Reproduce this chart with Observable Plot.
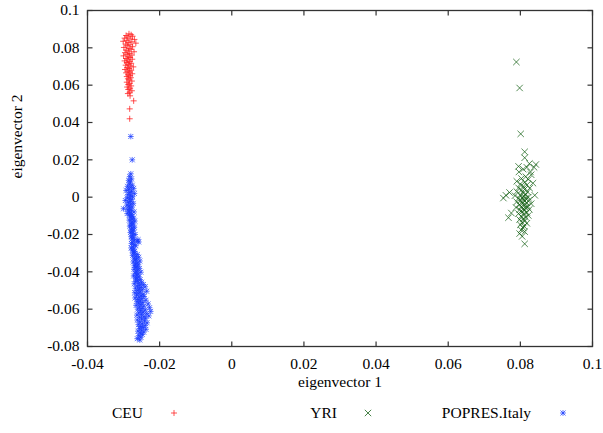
<!DOCTYPE html>
<html>
<head>
<meta charset="utf-8">
<script src="https://cdn.jsdelivr.net/npm/d3@7"></script>
<script src="https://cdn.jsdelivr.net/npm/@observablehq/plot@0.6"></script>
<style>
  body { margin: 0; background: #fff; }
  #wrap { position: relative; width: 603px; height: 433px; font-family: "Liberation Serif", "DejaVu Serif", serif; }
  .lg { position: absolute; font-size: 15.5px; color: #000; line-height: 16px; }
  .lgsym { position: absolute; }
</style>
</head>
<body>
<div id="wrap"></div>
<script>
// ---- data ----
const ceuX = [-0.0285,-0.0279,-0.0293,-0.0275,-0.0288,-0.0297,-0.0282,-0.0270,-0.0291,-0.0301,-0.0277,-0.0287,-0.0266,-0.0294,-0.0282,-0.0290,-0.0275,-0.0299,-0.0285,-0.0279,-0.0293,-0.0287,-0.0271,-0.0296,-0.0283,-0.0290,-0.0277,-0.0300,-0.0287,-0.0282,-0.0293,-0.0276,-0.0288,-0.0297,-0.0283,-0.0291,-0.0279,-0.0287,-0.0294,-0.0282,-0.0273,-0.0290,-0.0285,-0.0296,-0.0279,-0.0288,-0.0283,-0.0293,-0.0276,-0.0287,-0.0282,-0.0291,-0.0280,-0.0288,-0.0285,-0.0277,-0.0291,-0.0283,-0.0287,-0.0279,-0.0290,-0.0282,-0.0287,-0.0277,-0.0283,-0.0288,-0.0282,-0.0272,-0.0283,-0.0283];
const ceuY = [0.0875,0.0870,0.0866,0.0862,0.0858,0.0852,0.0848,0.0845,0.0840,0.0835,0.0832,0.0828,0.0825,0.0820,0.0816,0.0811,0.0806,0.0802,0.0797,0.0792,0.0788,0.0783,0.0779,0.0774,0.0770,0.0765,0.0761,0.0757,0.0752,0.0748,0.0743,0.0739,0.0735,0.0730,0.0726,0.0721,0.0717,0.0712,0.0707,0.0703,0.0698,0.0694,0.0689,0.0684,0.0680,0.0675,0.0670,0.0666,0.0661,0.0656,0.0651,0.0646,0.0640,0.0634,0.0628,0.0622,0.0616,0.0610,0.0603,0.0596,0.0590,0.0584,0.0577,0.0570,0.0562,0.0555,0.0543,0.0516,0.0473,0.0420];

const yriX = [0.0789,0.0798,0.0801,0.0812,0.0812,0.0825,0.0818,0.0808,0.0796,0.0830,0.0815,0.0803,0.0822,0.0790,0.0812,0.0835,0.0800,0.0818,0.0808,0.0795,0.0826,0.0812,0.0803,0.0790,0.0820,0.0808,0.0815,0.0800,0.0840,0.0785,0.0810,0.0822,0.0805,0.0795,0.0815,0.0760,0.0753,0.0770,0.0808,0.0825,0.0800,0.0812,0.0790,0.0818,0.0805,0.0830,0.0797,0.0812,0.0820,0.0803,0.0788,0.0815,0.0808,0.0825,0.0798,0.0812,0.0805,0.0818,0.0795,0.0810,0.0775,0.0822,0.0802,0.0815,0.0808,0.0798,0.0812,0.0805,0.0818,0.0800,0.0810,0.0808,0.0802,0.0812,0.0798,0.0805,0.0812,0.0828,0.0838,0.0843,0.0795,0.0767];
const yriY = [0.0724,0.0585,0.0339,0.0243,0.0211,0.0180,0.0160,0.0150,0.0135,0.0120,0.0110,0.0100,0.0095,0.0085,0.0080,0.0075,0.0070,0.0065,0.0058,0.0050,0.0048,0.0042,0.0038,0.0030,0.0028,0.0022,0.0015,0.0012,0.0010,0.0008,0.0005,0.0000,-0.0002,-0.0005,-0.0008,0.0010,-0.0005,0.0025,-0.0012,-0.0015,-0.0018,-0.0022,-0.0025,-0.0030,-0.0033,-0.0035,-0.0040,-0.0042,-0.0048,-0.0050,-0.0055,-0.0058,-0.0062,-0.0065,-0.0068,-0.0072,-0.0078,-0.0082,-0.0088,-0.0092,-0.0085,-0.0098,-0.0102,-0.0108,-0.0115,-0.0120,-0.0128,-0.0135,-0.0140,-0.0148,-0.0155,-0.0165,-0.0175,-0.0185,-0.0195,-0.0210,-0.0250,0.0135,0.0160,0.0175,0.0165,-0.0110];

const italyX = [-0.0280,-0.0276,-0.0280,-0.0283,-0.0278,-0.0286,-0.0281,
 -0.0284,-0.0276,-0.0289,-0.0280,-0.0272,-0.0286,-0.0293,-0.0278,-0.0283,-0.0270,-0.0288,-0.0281,-0.0275,-0.0290,-0.0284,-0.0277,-0.0295,-0.0282,-0.0287,-0.0273,-0.0280,-0.0291,-0.0285,-0.0276,-0.0283,-0.0300,-0.0288,-0.0279,-0.0285,-0.0271,-0.0282,-0.0290,-0.0278,-0.0284,-0.0276,
 -0.0281,-0.0272,-0.0277,-0.0284,-0.0269,-0.0276,-0.0280,-0.0273,-0.0278,-0.0283,-0.0270,-0.0276,-0.0279,-0.0272,-0.0277,-0.0281,-0.0274,-0.0268,-0.0276,-0.0279,-0.0273,-0.0277,-0.0270,-0.0262,-0.0275,-0.0278,-0.0271,-0.0266,-0.0274,-0.0279,-0.0272,-0.0276,-0.0269,-0.0273,-0.0260,-0.0258,
 -0.0270,-0.0262,-0.0275,-0.0266,-0.0258,-0.0271,-0.0264,-0.0268,-0.0255,-0.0273,-0.0262,-0.0267,-0.0259,-0.0270,-0.0263,-0.0266,-0.0256,-0.0271,-0.0261,-0.0265,-0.0252,-0.0268,-0.0260,-0.0264,-0.0272,-0.0257,-0.0263,-0.0267,-0.0254,-0.0261,
 -0.0266,-0.0250,-0.0258,-0.0270,-0.0245,-0.0255,-0.0262,-0.0240,-0.0252,-0.0267,-0.0257,-0.0248,-0.0262,-0.0236,-0.0254,-0.0269,-0.0259,-0.0246,-0.0264,-0.0251,-0.0243,-0.0257,-0.0268,-0.0249,-0.0260,-0.0238,-0.0254,-0.0263,-0.0247,-0.0258,-0.0232,-0.0252,-0.0265,-0.0244,-0.0256,-0.0228,-0.0249,-0.0261,-0.0240,-0.0253,-0.0225,-0.0246,-0.0258,-0.0236,-0.0250,-0.0263,-0.0230,-0.0244,-0.0255,-0.0239,
 -0.0250,-0.0262,-0.0242,-0.0255,-0.0235,-0.0248,-0.0259,-0.0240,-0.0252,-0.0246,-0.0256,-0.0238,-0.0250,-0.0260,-0.0244,-0.0254,-0.0248,-0.0258,-0.0252,-0.0262,-0.0255];
const italyY = [0.0325,0.0200,0.0125,0.0110,0.0098,0.0090,0.0082,
 0.0070,0.0064,0.0058,0.0052,0.0047,0.0042,0.0036,0.0031,0.0025,0.0020,0.0014,0.0008,0.0003,-0.0003,-0.0008,-0.0013,-0.0018,-0.0023,-0.0028,-0.0033,-0.0038,-0.0043,-0.0048,-0.0053,-0.0058,-0.0062,-0.0066,-0.0070,-0.0075,-0.0079,-0.0084,-0.0088,-0.0093,-0.0097,-0.0102,
 -0.0107,-0.0112,-0.0118,-0.0123,-0.0128,-0.0133,-0.0139,-0.0144,-0.0150,-0.0155,-0.0161,-0.0166,-0.0172,-0.0177,-0.0183,-0.0189,-0.0194,-0.0200,-0.0206,-0.0212,-0.0218,-0.0224,-0.0230,-0.0236,-0.0242,-0.0248,-0.0254,-0.0260,-0.0266,-0.0272,-0.0278,-0.0284,-0.0290,-0.0296,-0.0228,-0.0240,
 -0.0302,-0.0307,-0.0312,-0.0317,-0.0322,-0.0327,-0.0332,-0.0337,-0.0342,-0.0347,-0.0352,-0.0357,-0.0362,-0.0367,-0.0372,-0.0377,-0.0382,-0.0387,-0.0392,-0.0397,-0.0402,-0.0407,-0.0412,-0.0417,-0.0422,-0.0427,-0.0432,-0.0437,-0.0442,-0.0447,
 -0.0452,-0.0456,-0.0460,-0.0464,-0.0468,-0.0472,-0.0476,-0.0480,-0.0484,-0.0488,-0.0492,-0.0496,-0.0500,-0.0504,-0.0508,-0.0512,-0.0516,-0.0520,-0.0524,-0.0528,-0.0532,-0.0536,-0.0540,-0.0544,-0.0548,-0.0552,-0.0556,-0.0560,-0.0564,-0.0568,-0.0572,-0.0576,-0.0580,-0.0584,-0.0588,-0.0592,-0.0596,-0.0600,-0.0604,-0.0608,-0.0612,-0.0616,-0.0620,-0.0624,-0.0628,-0.0632,-0.0636,-0.0640,-0.0644,-0.0648,
 -0.0653,-0.0658,-0.0663,-0.0668,-0.0673,-0.0678,-0.0683,-0.0688,-0.0693,-0.0698,-0.0703,-0.0708,-0.0713,-0.0718,-0.0723,-0.0728,-0.0735,-0.0742,-0.0750,-0.0758,-0.0765];

const xTicks = [-0.04, -0.02, 0, 0.02, 0.04, 0.06, 0.08, 0.1];
const yTicks = [-0.08, -0.06, -0.04, -0.02, 0, 0.02, 0.04, 0.06, 0.08, 0.1];
const seriesNames = ["CEU", "YRI", "POPRES.Italy"];
const seriesColors = ["#ff1a1a", "#0b5a0b", "#1a3cff"];

// ---- build tables ----
const ceu = ceuX.map((x, i) => ({x, y: ceuY[i]}));
const yri = yriX.map((x, i) => ({x, y: yriY[i]}));
const italy = italyX.map((x, i) => ({x, y: italyY[i]}));

const fmt = d => String(d);
const FS = 15.5;
const TL = 5; // inward tick length (px)

// custom tick-mark symbols (a short line pointing into the frame)
const tickSym = (dx, dy) => ({draw(ctx) { ctx.moveTo(0, 0); ctx.lineTo(dx * TL, dy * TL); }});
const tickUp = tickSym(0, -1), tickDown = tickSym(0, 1), tickRight = tickSym(1, 0), tickLeft = tickSym(-1, 0);

const chart = Plot.plot({
  width: 603,
  height: 395,
  marginLeft: 87,
  marginRight: 11,
  marginTop: 10,
  marginBottom: 49,
  style: {fontFamily: "'Liberation Serif', 'DejaVu Serif', serif", fontSize: FS + "px", background: "#fff", color: "#000"},
  x: {domain: [-0.04, 0.1], axis: null},
  y: {domain: [-0.08, 0.1], axis: null},
  marks: [
    Plot.dot(ceu, {x: "x", y: "y", symbol: "plus", r: 2.1, stroke: seriesColors[0], strokeWidth: 1, strokeOpacity: 0.75}),
    Plot.dot(yri, {x: "x", y: "y", symbol: "times", r: 3, stroke: seriesColors[1], strokeWidth: 1, strokeOpacity: 0.7}),
    Plot.dot(italy, {x: "x", y: "y", symbol: "plus", r: 2, stroke: seriesColors[2], strokeWidth: 1, strokeOpacity: 0.7}),
    Plot.dot(italy, {x: "x", y: "y", symbol: "times", r: 2.4, stroke: seriesColors[2], strokeWidth: 1, strokeOpacity: 0.7}),
    // tick labels
    Plot.axisX(xTicks, {anchor: "bottom", tickSize: 0, tickPadding: 11, tickFormat: fmt, fontSize: FS, label: null}),
    Plot.axisY(yTicks, {anchor: "left", tickSize: 0, tickPadding: 8, tickFormat: fmt, fontSize: FS, label: null}),
    // inward tick marks on all four sides
    Plot.dot(xTicks, {x: d => d, frameAnchor: "bottom", symbol: tickUp, stroke: "#333", strokeWidth: 1.2}),
    Plot.dot(xTicks, {x: d => d, frameAnchor: "top", symbol: tickDown, stroke: "#333", strokeWidth: 1.2}),
    Plot.dot(yTicks, {y: d => d, frameAnchor: "left", symbol: tickRight, stroke: "#333", strokeWidth: 1.2}),
    Plot.dot(yTicks, {y: d => d, frameAnchor: "right", symbol: tickLeft, stroke: "#333", strokeWidth: 1.2}),
    Plot.frame({stroke: "#333", strokeWidth: 1.3}),
    // axis titles
    Plot.text(["eigenvector 1"], {text: d => d, frameAnchor: "bottom", dy: 40, fontSize: FS}),
    Plot.text(["eigenvector 2"], {text: d => d, frameAnchor: "left", dx: -70, rotate: -90, fontSize: FS})
  ]
});

const wrap = document.getElementById("wrap");
wrap.appendChild(chart);

// ---- legend below the plot ----
const legendTextRight = [143, 337, 531];
const legendSymX = [174, 368, 563];
const legendY = 413;
const symbolTypes = [["plus"], ["times"], ["plus", "times"]];
const symSizes = {plus: 2.1, times: 3};
seriesNames.forEach((name, i) => {
  const t = document.createElement("div");
  t.className = "lg";
  t.textContent = name;
  t.style.right = (603 - legendTextRight[i]) + "px";
  t.style.top = (legendY - 8) + "px";
  wrap.appendChild(t);
  const s = d3.create("svg").attr("class", "lgsym").attr("width", 12).attr("height", 12)
    .style("left", (legendSymX[i] - 6) + "px").style("top", (legendY - 6) + "px");
  symbolTypes[i].forEach(type => {
    const r = i === 2 ? (type === "plus" ? 2 : 2.4) : symSizes[type];
    const sym = type === "plus" ? d3.symbolPlus : d3.symbolTimes;
    s.append("path").attr("transform", "translate(6,6)")
      .attr("d", d3.symbol(sym, Math.PI * r * r)())
      .attr("fill", "none").attr("stroke", seriesColors[i]).attr("stroke-width", 1).attr("stroke-opacity", 0.75);
  });
  wrap.appendChild(s.node());
});
</script>
</body>
</html>
